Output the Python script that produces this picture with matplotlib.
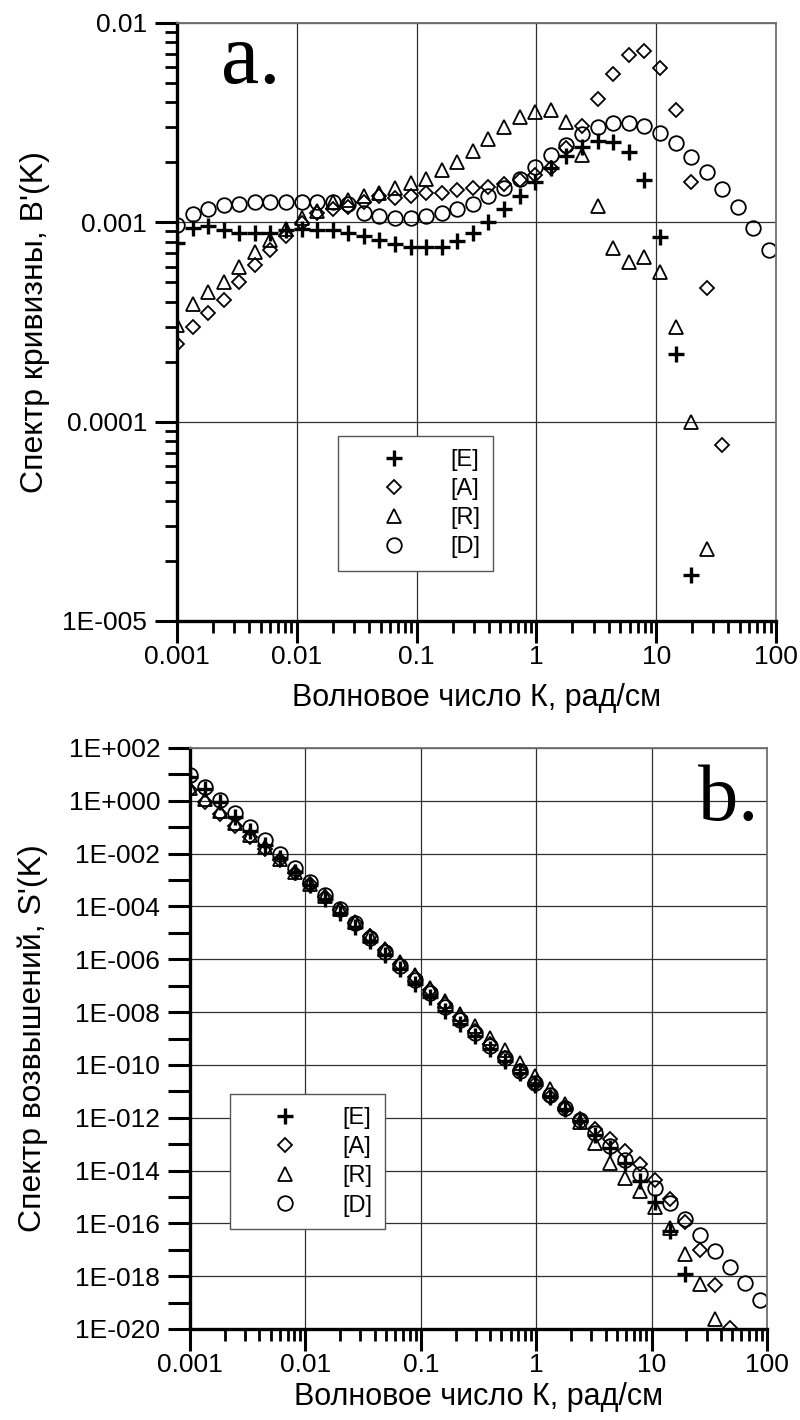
import matplotlib
matplotlib.use("Agg")
import matplotlib.pyplot as plt
from matplotlib.ticker import FixedLocator, FixedFormatter, NullFormatter, LogLocator

plt.rcParams['font.family'] = ['Liberation Sans', 'DejaVu Sans']

# Wavenumber grid K, rad/cm
K = [0.001, 0.00135, 0.00182, 0.00245, 0.00331, 0.00447, 0.00603, 0.00813,
     0.011, 0.0148, 0.02, 0.0269, 0.0363, 0.049, 0.0661, 0.0891, 0.12, 0.162,
     0.219, 0.295, 0.398, 0.537, 0.724, 0.977, 1.32, 1.78, 2.4, 3.24, 4.37,
     5.89, 7.94, 10.7, 14.5, 19.5, 26.3, 35.5, 47.9, 64.6, 87.1]

# Panel a: curvature spectrum B'(K)
B_E = [7.85e-4, 9.4e-4, 9.55e-4, 9.2e-4, 8.8e-4, 8.8e-4, 8.8e-4, 9.15e-4, 9.3e-4,
       9.15e-4, 9.15e-4, 8.8e-4, 8.5e-4, 8.15e-4, 7.8e-4, 7.55e-4, 7.55e-4, 7.55e-4,
       8.1e-4, 8.8e-4, 1.0e-3, 1.17e-3, 1.35e-3, 1.6e-3, 1.87e-3, 2.15e-3, 2.4e-3,
       2.57e-3, 2.54e-3, 2.26e-3, 1.64e-3, 8.4e-4, 2.18e-4, 1.7e-5]
B_A = [2.45e-4, 3.0e-4, 3.5e-4, 4.1e-4, 5.0e-4, 6.1e-4, 7.3e-4, 8.5e-4, 9.9e-4,
       1.11e-3, 1.16e-3, 1.2e-3, 1.27e-3, 1.35e-3, 1.32e-3, 1.35e-3, 1.4e-3, 1.41e-3,
       1.45e-3, 1.48e-3, 1.51e-3, 1.55e-3, 1.63e-3, 1.73e-3, 1.87e-3, 2.35e-3, 3.04e-3,
       4.14e-3, 5.58e-3, 6.9e-3, 7.26e-3, 5.93e-3, 3.66e-3, 1.6e-3, 4.7e-4, 7.6e-5]
B_R = [3.05e-4, 3.9e-4, 4.45e-4, 5.0e-4, 6.0e-4, 7.1e-4, 8.15e-4, 9.3e-4, 1.05e-3,
       1.14e-3, 1.26e-3, 1.29e-3, 1.35e-3, 1.41e-3, 1.48e-3, 1.57e-3, 1.65e-3, 1.82e-3,
       2.01e-3, 2.29e-3, 2.61e-3, 3.02e-3, 3.37e-3, 3.59e-3, 3.66e-3, 3.2e-3, 2.18e-3,
       1.21e-3, 7.4e-4, 6.35e-4, 6.7e-4, 5.65e-4, 3.0e-4, 1.0e-4, 2.3e-5]
B_D = [9.7e-4, 1.1e-3, 1.17e-3, 1.22e-3, 1.24e-3, 1.26e-3, 1.27e-3, 1.27e-3, 1.27e-3,
       1.27e-3, 1.27e-3, 1.24e-3, 1.11e-3, 1.07e-3, 1.05e-3, 1.05e-3, 1.07e-3, 1.12e-3,
       1.16e-3, 1.24e-3, 1.35e-3, 1.48e-3, 1.65e-3, 1.9e-3, 2.18e-3, 2.43e-3, 2.76e-3,
       3.02e-3, 3.16e-3, 3.16e-3, 3.05e-3, 2.8e-3, 2.49e-3, 2.13e-3, 1.79e-3, 1.47e-3,
       1.19e-3, 9.4e-4, 7.3e-4]

# Panel b: elevation spectrum S'(K)
S_E = [7.9, 2.8, 0.87, 0.25, 7.3e-2, 2.2e-2, 6.7e-3, 2.1e-3, 6.5e-4, 1.9e-4, 5.8e-5,
       1.7e-5, 4.9e-6, 1.4e-6, 4.1e-7, 1.2e-7, 3.6e-8, 1.1e-8, 3.5e-9, 1.2e-9, 4.0e-10,
       1.4e-10, 4.9e-11, 1.75e-11, 6.2e-12, 2.15e-12, 7.2e-13, 2.3e-13, 7.0e-14, 1.9e-14,
       4.1e-15, 6.4e-16, 5.0e-17, 1.2e-18]
S_A = [2.5, 0.91, 0.32, 0.11, 4.2e-2, 1.5e-2, 5.5e-3, 1.9e-3, 6.8e-4, 2.3e-4, 7.3e-5,
       2.3e-5, 7.3e-6, 2.3e-6, 6.9e-7, 2.1e-7, 6.7e-8, 2.0e-8, 6.3e-9, 2.0e-9, 6.0e-10,
       1.9e-10, 5.9e-11, 1.9e-11, 6.2e-12, 2.35e-12, 9.2e-13, 3.8e-13, 1.5e-13, 5.7e-14,
       1.8e-14, 4.5e-15, 8.4e-16, 1.1e-16, 9.9e-18, 4.8e-19, 1.1e-20]
S_R = [3.05, 1.17, 0.40, 0.14, 5.0e-2, 1.8e-2, 6.2e-3, 2.1e-3, 7.2e-4, 2.4e-4, 7.9e-5,
       2.5e-5, 7.7e-6, 2.45e-6, 7.8e-7, 2.5e-7, 7.9e-8, 2.6e-8, 8.8e-9, 3.0e-9, 1.04e-9,
       3.6e-10, 1.2e-10, 3.9e-11, 1.2e-11, 3.2e-12, 6.6e-13, 1.1e-13, 2.0e-14, 5.3e-15,
       1.7e-15, 4.3e-16, 6.9e-17, 7.0e-18, 4.9e-19, 2.3e-20]
S_D = [9.7, 3.3, 1.07, 0.34, 0.10, 3.2e-2, 9.6e-3, 2.9e-3, 8.8e-4, 2.65e-4, 8.0e-5,
       2.4e-5, 6.4e-6, 1.9e-6, 5.5e-7, 1.7e-7, 5.1e-8, 1.6e-8, 5.1e-9, 1.6e-9, 5.4e-10,
       1.8e-10, 6.0e-11, 2.1e-11, 7.2e-12, 2.4e-12, 8.3e-13, 2.75e-13, 8.7e-14, 2.6e-14,
       7.7e-15, 2.1e-15, 5.7e-16, 1.5e-16, 3.7e-17, 9.2e-18, 2.3e-18, 5.4e-19, 1.26e-19]

labels = ['[E]', '[A]', '[R]', '[D]']
x_ticks = [0.001, 0.01, 0.1, 1, 10, 100]
x_ticklabels = ['0.001', '0.01', '0.1', '1', '10', '100']
ya_ticks = [1e-5, 1e-4, 1e-3, 1e-2]
ya_ticklabels = ['1E-005', '0.0001', '0.001', '0.01']
yb_ticks = [10.0 ** e for e in range(2, -21, -2)]
yb_ticklabels = ['1E+002', '1E+000', '1E-002', '1E-004', '1E-006', '1E-008',
                 '1E-010', '1E-012', '1E-014', '1E-016', '1E-018', '1E-020']
yb_minor = [10.0 ** e for e in range(1, -20, -2)]

xlabel = 'Волновое число К, рад/см'

TICK_FS = 19
XLABEL_FS = 22
YLABEL_FS = 23
LEG_FS = 17

W, H = 800, 1420
fig = plt.figure(figsize=(W / 100, H / 100), dpi=100)

ax1 = fig.add_axes([177 / W, 1 - 621 / H, (776 - 177) / W, (621 - 23) / H])
ax2 = fig.add_axes([190 / W, 1 - 1329 / H, (767 - 190) / W, (1329 - 748) / H])

styles = [
    dict(marker='+', ms=11.5, mew=2.4, mec='black', ls='none'),
    dict(marker='D', ms=6.8, mew=1.3, mec='black', mfc='none', ls='none'),
    dict(marker='^', ms=9.5, mew=1.3, mec='black', mfc='none', ls='none'),
    dict(marker='o', ms=10.5, mew=1.3, mec='black', mfc='none', ls='none'),
]


def style_axes(ax):
    ax.set_xscale('log')
    ax.set_yscale('log')
    ax.set_xlim(0.001, 100)
    for s in ['top', 'right']:
        ax.spines[s].set_linewidth(1.3)
        ax.spines[s].set_color('#707070')
    for s in ['left', 'bottom']:
        ax.spines[s].set_linewidth(2.4)
        ax.spines[s].set_color('black')
    ax.xaxis.set_major_locator(FixedLocator(x_ticks))
    ax.xaxis.set_major_formatter(FixedFormatter(x_ticklabels))
    ax.xaxis.set_minor_locator(LogLocator(base=10, subs=range(2, 10), numticks=20))
    ax.xaxis.set_minor_formatter(NullFormatter())
    ax.tick_params(which='major', direction='out', length=16, width=2.2,
                   labelsize=TICK_FS, pad=1.0, top=False, right=False)
    ax.tick_params(which='minor', direction='out', length=8.5, width=2.0,
                   top=False, right=False)
    ax.tick_params(axis='y', which='major', pad=5.5)
    ax.grid(True, which='major', color='#303030', lw=0.9)
    ax.set_axisbelow(True)
    ax.set_xlabel(xlabel, fontsize=XLABEL_FS)


def add_legend(ax, anchor):
    leg = ax.legend(loc='upper left', bbox_to_anchor=anchor, borderaxespad=0,
                    fontsize=LEG_FS, frameon=True, fancybox=False, framealpha=1,
                    edgecolor='#555555', borderpad=0.55, handlelength=3.6,
                    handletextpad=0.6, labelspacing=0.3)
    leg.get_frame().set_linewidth(1.0)
    return leg


style_axes(ax1)
ax1.set_ylim(1e-5, 1e-2)
ax1.yaxis.set_major_locator(FixedLocator(ya_ticks))
ax1.yaxis.set_major_formatter(FixedFormatter(ya_ticklabels))
ax1.yaxis.set_minor_locator(LogLocator(base=10, subs=range(2, 10), numticks=20))
ax1.yaxis.set_minor_formatter(NullFormatter())
ax1.set_ylabel("Спектр кривизны, B'(K)", fontsize=YLABEL_FS)
ax1.yaxis.set_label_coords(-0.212, 0.5)
ax1.xaxis.set_label_coords(0.5, -0.103)

for y, lab, st in zip([B_E, B_A, B_R, B_D], labels, styles):
    ax1.plot(K[:len(y)], y, label=lab, **st)

add_legend(ax1, (0.269, 0.309))

ax1.text(0.073, 0.9, 'a.', transform=ax1.transAxes, fontsize=62,
         family='Liberation Serif', ha='left', va='baseline')

style_axes(ax2)
ax2.set_ylim(1e-20, 1e2)
ax2.yaxis.set_major_locator(FixedLocator(yb_ticks))
ax2.yaxis.set_major_formatter(FixedFormatter(yb_ticklabels))
ax2.yaxis.set_minor_locator(FixedLocator(yb_minor))
ax2.yaxis.set_minor_formatter(NullFormatter())
ax2.tick_params(axis='y', which='minor', length=16, width=2.2)
ax2.set_ylabel("Спектр возвышений, S'(K)", fontsize=YLABEL_FS)
ax2.yaxis.set_label_coords(-0.246, 0.5)
ax2.xaxis.set_label_coords(0.5, -0.092)

for y, lab, st in zip([S_E, S_A, S_R, S_D], labels, styles):
    ax2.plot(K[:len(y)], y, label=lab, **st)

add_legend(ax2, (0.069, 0.404))

ax2.text(0.88, 0.876, 'b.', transform=ax2.transAxes, fontsize=58,
         family='Liberation Serif', ha='left', va='baseline')

fig.savefig('out.png', dpi=100)
